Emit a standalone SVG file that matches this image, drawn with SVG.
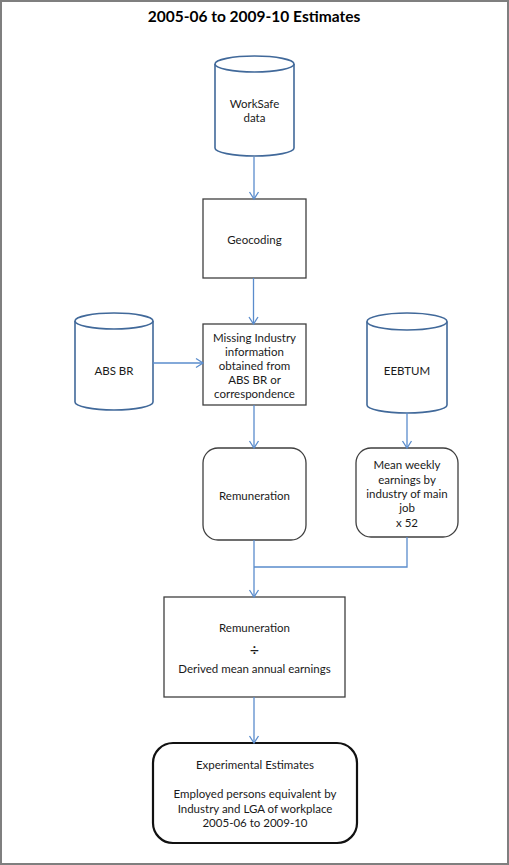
<svg xmlns="http://www.w3.org/2000/svg" width="509" height="865" viewBox="0 0 509 865">
<style>
text{font-family:Lato,"Open Sans","Liberation Sans",sans-serif;font-size:11.5px;fill:#1a1a1a;text-anchor:middle;dominant-baseline:central}
.title{font-weight:bold;font-size:15.5px;fill:#000}
.cyl{fill:#fff;stroke:#41699a;stroke-width:1.6}
.box{fill:#fff;stroke:#3f3f3f;stroke-width:1.3}
.fin{fill:#fff;stroke:#111;stroke-width:2.2}
.con{fill:none;stroke:#5a8ccc;stroke-width:1.3}
</style>
<defs>
<marker id="ah" markerWidth="12" markerHeight="12" refX="10" refY="6" orient="auto" markerUnits="userSpaceOnUse">
<polyline points="3,1.5 10,6 3,10.5" fill="none" stroke="#5a8ccc" stroke-width="1.3"/>
</marker>
</defs>
<rect x="1" y="1" width="507" height="863" fill="#fff" stroke="#7f7f7f" stroke-width="2"/>
<text class="title" x="254" y="16">2005-06 to 2009-10 Estimates</text>
<g id="worksafe">
<path class="cyl" d="M215,64 L215,148 A39.5,8 0 0 0 294,148 L294,64"/>
<ellipse class="cyl" cx="254.5" cy="64" rx="39.5" ry="8"/>
<text x="254.5" y="103">WorkSafe</text>
<text x="254.5" y="117">data</text>
</g>
<g id="geocoding">
<rect class="box" x="203" y="199" width="103" height="79"/>
<text x="254.5" y="239">Geocoding</text>
</g>
<g id="absbr">
<path class="cyl" d="M75,321 L75,402 A39,8 0 0 0 153,402 L153,321"/>
<ellipse class="cyl" cx="114" cy="321" rx="39" ry="8"/>
<text x="114" y="370">ABS BR</text>
</g>
<g id="missing">
<rect class="box" x="203" y="324" width="103" height="81"/>
<text x="254.5" y="337">Missing Industry</text>
<text x="254.5" y="351">information</text>
<text x="254.5" y="365">obtained from</text>
<text x="254.5" y="379">ABS BR or</text>
<text x="254.5" y="393">correspondence</text>
</g>
<g id="eebtum">
<path class="cyl" d="M367,321.5 L367,405 A40,8 0 0 0 447,405 L447,321.5"/>
<ellipse class="cyl" cx="407" cy="321.5" rx="40" ry="8.5"/>
<text x="407" y="370">EEBTUM</text>
</g>
<g id="remuneration">
<rect class="box" x="203" y="448" width="103" height="92" rx="15"/>
<text x="254.5" y="495">Remuneration</text>
</g>
<g id="mean">
<rect class="box" x="356" y="448" width="102" height="89" rx="15"/>
<text x="407" y="464">Mean weekly</text>
<text x="407" y="479">earnings by</text>
<text x="407" y="493">industry of main</text>
<text x="407" y="507">job</text>
<text x="407" y="522">x 52</text>
</g>
<g id="divide">
<rect class="box" x="164" y="597" width="181" height="100"/>
<text x="254.5" y="627">Remuneration</text>
<text x="254.5" y="648" style="font-size:16px">÷</text>
<text x="254.5" y="668">Derived mean annual earnings</text>
</g>
<g id="estimates">
<rect class="fin" x="153" y="743" width="204" height="100" rx="20"/>
<text x="255" y="764">Experimental Estimates</text>
<text x="255" y="793">Employed persons equivalent by</text>
<text x="255" y="808">Industry and LGA of workplace</text>
<text x="255" y="822">2005-06 to 2009-10</text>
</g>
<g id="connectors">
<line class="con" x1="254" y1="157" x2="254" y2="199" marker-end="url(#ah)"/>
<line class="con" x1="253.5" y1="278" x2="253.5" y2="324" marker-end="url(#ah)"/>
<line class="con" x1="153" y1="363" x2="203" y2="363" marker-end="url(#ah)"/>
<line class="con" x1="407" y1="413" x2="407" y2="448" marker-end="url(#ah)"/>
<line class="con" x1="254" y1="405" x2="254" y2="448" marker-end="url(#ah)"/>
<polyline class="con" points="254,540 254,567"/>
<polyline class="con" points="407,537 407,567 254,567"/>
<line class="con" x1="254" y1="567" x2="254" y2="597" marker-end="url(#ah)"/>
<line class="con" x1="254" y1="697" x2="254" y2="743" marker-end="url(#ah)"/>
</g>
</svg>
